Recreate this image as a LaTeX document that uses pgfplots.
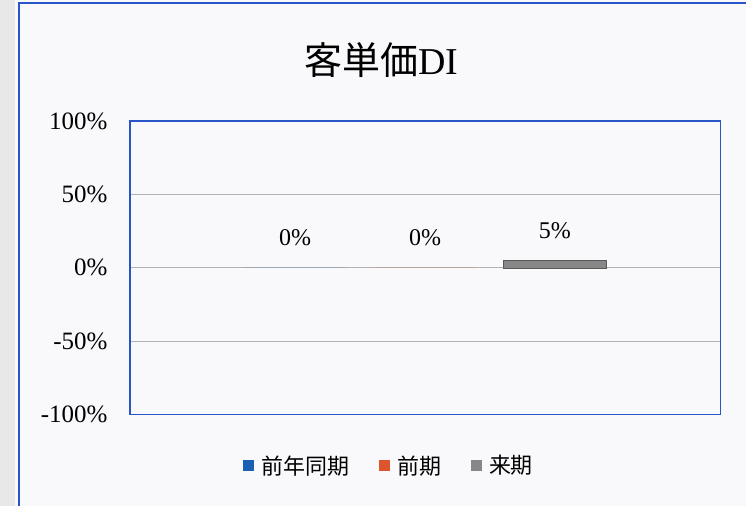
\documentclass[border=0pt]{standalone}
\usepackage{fontspec}
\setmainfont{Liberation Serif}
\newfontfamily\cjk{Noto Sans CJK JP}
\usepackage{pgfplots}
\pgfplotsset{compat=1.18}
\definecolor{frameblue}{RGB}{40,85,200}
\definecolor{serA}{RGB}{25,95,180}
\definecolor{serB}{RGB}{220,85,45}
\definecolor{serC}{RGB}{135,135,135}
\definecolor{bg}{RGB}{249,249,251}
\begin{document}
\begin{tikzpicture}[x=1pt,y=1pt]
\fill[bg] (0,0) rectangle (747,507);
\fill[gray!18] (0,0) rectangle (15,507);
\draw[frameblue, line width=1.6pt] (19,0) -- (19,504) -- (747,504);
\node[font=\fontsize{38}{38}\selectfont] at (381.5,447) {{\cjk 客単価}DI};
\begin{axis}[
  at={(130pt,92pt)}, anchor=south west,
  width=591pt, height=294pt, scale only axis,
  xmin=-1, xmax=1, ymin=-100, ymax=100,
  xtick=\empty,
  ytick={-100,-50,0,50,100},
  yticklabels={-100\%,-50\%,0\%,50\%,100\%},
  yticklabel style={font=\fontsize{25}{25}\selectfont, xshift=-19pt},
  major tick length=0pt,
  axis line style={frameblue, line width=1.4pt},
  ymajorgrids, grid style={gray!60, line width=0.8pt},
  /pgf/number format/assume math mode=true,
  ybar=27pt, bar width=103pt,
  nodes near coords={\pgfmathprintnumber{\pgfplotspointmeta}\%},
  every node near coord/.append style={font=\fontsize{24}{24}\selectfont, anchor=south, yshift=18pt, text=black},
  legend style={at={(0.44,-0.1735)}, anchor=center, draw=none, fill=none,
    legend columns=3, font=\cjk\fontsize{22}{22}\selectfont,
    /tikz/every even column/.append style={column sep=27pt},
    nodes={inner sep=3pt},
    legend cell align=left},
  legend image code/.code={\path[#1,draw=none] (0pt,-5.5pt) rectangle (11pt,5.5pt);\path[draw=none,fill=none] (0pt,0pt) -- (15pt,0pt);},
]
\addplot[fill=serA, draw=none] coordinates {(0,0)};
\addplot[fill=serB, draw=none] coordinates {(0,0)};
\addplot[fill=serC, draw=black!65] coordinates {(0,5)};
\legend{前年同期,前期,来期}
\end{axis}
\end{tikzpicture}
\end{document}
